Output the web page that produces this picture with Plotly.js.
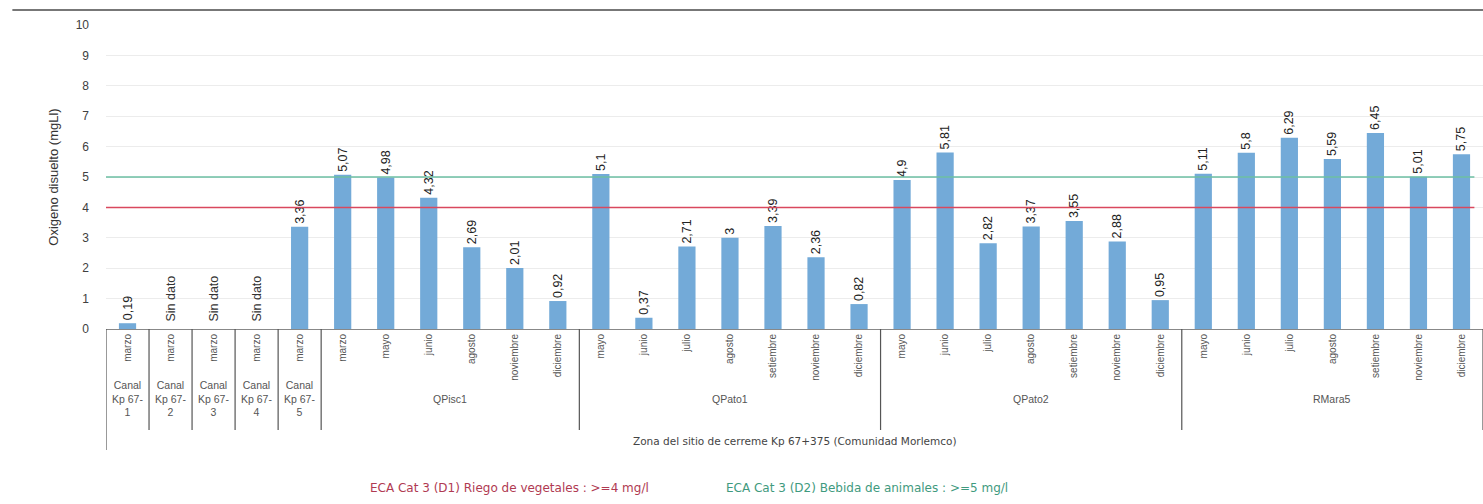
<!DOCTYPE html>
<html>
<head>
<meta charset="utf-8">
<script src="https://cdn.plot.ly/plotly-3.0.1.min.js"></script>
<style>html,body{margin:0;padding:0;background:#fff;}#chart{width:1483px;height:504px;}</style>
</head>
<body>
<div id="chart"></div>
<script>
// ---- data ----
const groupNames = ['Canal<br>Kp 67-<br>1','Canal<br>Kp 67-<br>2','Canal<br>Kp 67-<br>3','Canal<br>Kp 67-<br>4','Canal<br>Kp 67-<br>5','QPisc1','QPato1','QPato2','RMara5'];
const groupSizes = [1,1,1,1,1,6,7,7,7];
const months = ['marzo','marzo','marzo','marzo','marzo',
  'marzo','mayo','junio','agosto','noviembre','diciembre',
  'mayo','junio','julio','agosto','setiembre','noviembre','diciembre',
  'mayo','junio','julio','agosto','setiembre','noviembre','diciembre',
  'mayo','junio','julio','agosto','setiembre','noviembre','diciembre'];
const oxigeno = [0.19,null,null,null,3.36,
  5.07,4.98,4.32,2.69,2.01,0.92,
  5.1,0.37,2.71,3,3.39,2.36,0.82,
  4.9,5.81,2.82,3.37,3.55,2.88,0.95,
  5.11,5.8,6.29,5.59,6.45,5.01,5.75];
const missingLabel = 'Sin dato';
const zoneTitle = 'Zona del sitio de cerreme Kp 67+375 (Comunidad Morlemco)';
const yTitle = 'Oxigeno disuelto (mgLl)';
const limitNames = ['ECA Cat 3 (D1) Riego de vegetales : >=4 mg/l','ECA Cat 3 (D2) Bebida de animales : >=5 mg/l'];
const limitValues = [4,5];
const limitColors = ['#d9485e','#6cbfa3'];
const limitTextColors = ['#b03a52','#3f9a7e'];

// ---- build ----
const n = months.length;
const xs = months.map((m,i)=>i);
const texts = oxigeno.map(v => v==null ? '' : String(v).replace('.', ','));
const labelFont = 'Liberation Sans Narrow, Arial Narrow, Arial';

const traces = [{
  type:'bar', x: xs, y: oxigeno, text: texts, textposition:'outside', textangle:-90,
  constraintext:'none', cliponaxis:false,
  textfont:{family:labelFont, size:12.5, color:'#222'},
  marker:{color:'#73aad8'}, hoverinfo:'y', showlegend:false
}];
limitValues.forEach((v,k)=>{
  traces.push({type:'scatter', mode:'lines', x:[-0.5, n-0.7], y:[v,v],
    line:{color:limitColors[k], width:1.5}, showlegend:false, hoverinfo:'skip'});
});

const shapes = [];
const annotations = [];
const yPix = 304; // plot height in px
const sepBottom = -101/yPix, leftBottom = -121/yPix;
let start = 0;
shapes.push({type:'line', xref:'x', yref:'paper', x0:-0.5, x1:-0.5, y0:0, y1:leftBottom, line:{color:'#555', width:1.2}});
groupSizes.forEach((s,g)=>{
  const end = start + s;
  shapes.push({type:'line', xref:'x', yref:'paper', x0:end-0.5, x1:end-0.5, y0:0, y1:sepBottom, line:{color:'#555', width:1.2}});
  annotations.push({xref:'x', yref:'paper', x:(start+end-1)/2, y:-70/yPix, text:groupNames[g], showarrow:false,
    font:{family:'Arial', size:10.5, color:'#555'}, yanchor:'middle', align:'center'});
  start = end;
});
oxigeno.forEach((v,i)=>{
  if (v==null) annotations.push({xref:'x', yref:'y', x:i, y:0, yanchor:'bottom', yshift:5, textangle:-90,
    text:missingLabel, showarrow:false, font:{family:labelFont, size:12.5, color:'#333'}});
});
annotations.push({xref:'paper', yref:'paper', x:0.5, y:-112/yPix, text:zoneTitle, showarrow:false,
  font:{family:'DejaVu Sans', size:10.5, color:'#444'}, yanchor:'middle'});
const legX = [0.19, 0.449];
limitNames.forEach((t,k)=>{
  annotations.push({xref:'paper', yref:'paper', x:legX[k], y:-159/yPix, xanchor:'left', yanchor:'middle', text:t,
    showarrow:false, font:{family:'DejaVu Sans', size:12, color:limitTextColors[k]}});
});
// top rule of the page
shapes.push({type:'line', xref:'paper', yref:'paper', x0:-0.068, x1:1, y0:319/yPix, y1:319/yPix, line:{color:'#777', width:1.8}});

const layout = {
  width:1483, height:504,
  margin:{l:106, r:0, t:25, b:175},
  paper_bgcolor:'#fff', plot_bgcolor:'#fff',
  bargap:0.6,
  xaxis:{range:[-0.5, n-0.5], tickmode:'array', tickvals:xs, ticktext:months, tickangle:-90,
    tickfont:{family:'Arial', size:10, color:'#555'}, showgrid:false, zeroline:false,
    showline:true, linecolor:'#888', linewidth:1, ticks:'', fixedrange:true},
  yaxis:{range:[0,10], dtick:1, tickfont:{family:'Arial', size:12, color:'#404040'},
    showgrid:true, gridcolor:'#ececec', zeroline:false, showline:false, ticklabelstandoff:16,
    title:{text:yTitle, font:{family:'Arial', size:13, color:'#333'}, standoff:14}},
  shapes:shapes, annotations:annotations, showlegend:false
};
Plotly.newPlot('chart', traces, layout, {displayModeBar:false, staticPlot:true});
</script>
</body>
</html>
